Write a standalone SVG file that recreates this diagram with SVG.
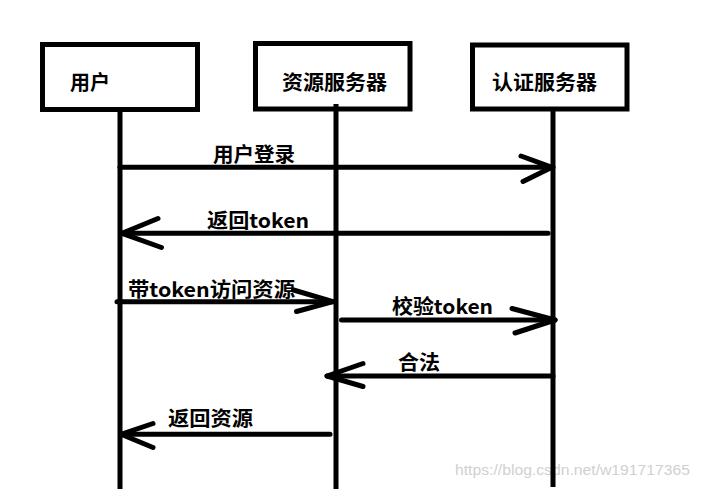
<svg xmlns="http://www.w3.org/2000/svg" width="701" height="489" viewBox="0 0 701 489">
<style>
.box{fill:#fff;stroke:#000;stroke-width:5}
.life{stroke:#000;stroke-width:5;fill:none}
.msg{stroke:#000;stroke-width:5;fill:none;stroke-linecap:round;stroke-linejoin:round}
.lbl{font-family:"Noto Sans CJK SC","Microsoft YaHei",sans-serif;font-weight:bold;font-size:20px;fill:#000}
.wm{font-family:"Liberation Sans",Arial,sans-serif;font-size:14px;fill:#d0d0d0}
</style>
<rect width="701" height="489" fill="#fff"/>
<text class="wm" x="455" y="475" textLength="235" lengthAdjust="spacingAndGlyphs">https://blog.csdn.net/w191717365</text>
<g id="user">
<rect class="box" x="42.5" y="44.5" width="155" height="65"/>
<text class="lbl" x="70" y="90">用户</text>
<line class="life" x1="120" y1="112" x2="120" y2="489"/>
</g>
<g id="resource-server">
<rect class="box" x="255.5" y="43.5" width="154.5" height="65.5"/>
<text class="lbl" x="282" y="90" textLength="105" lengthAdjust="spacingAndGlyphs">资源服务器</text>
<line class="life" x1="336" y1="104" x2="336" y2="489"/>
</g>
<g id="auth-server">
<rect class="box" x="472.5" y="45" width="154.5" height="64"/>
<text class="lbl" x="492" y="90" textLength="105" lengthAdjust="spacingAndGlyphs">认证服务器</text>
<line class="life" x1="553" y1="111" x2="553" y2="487"/>
</g>
<g id="connectors">
<line class="msg" x1="120" y1="167.3" x2="553" y2="167.3"/>
<polyline class="msg" points="521,156 552,167.3 523,181.5"/>
<line class="msg" x1="548" y1="233.3" x2="121" y2="233.3"/>
<polyline class="msg" points="158,218.5 122,233.3 161.5,247.5"/>
<line class="msg" x1="117" y1="301.7" x2="333" y2="301.7"/>
<polyline class="msg" points="293.5,290 333,301.7 296.5,311.5"/>
<line class="msg" x1="341.5" y1="320" x2="555" y2="320"/>
<polyline class="msg" points="512,308.5 555,320 515,333"/>
<line class="msg" x1="553" y1="376" x2="327" y2="376"/>
<polyline class="msg" points="363,363.5 327,376 363,386.5"/>
<line class="msg" x1="330" y1="434.3" x2="121" y2="434.3"/>
<polyline class="msg" points="153,423.5 121,434.3 153,447.5"/>
<text class="lbl" x="213" y="162" textLength="82" lengthAdjust="spacingAndGlyphs">用户登录</text>
<text class="lbl" x="207" y="228" textLength="102" lengthAdjust="spacingAndGlyphs">返回token</text>
<text class="lbl" x="128" y="296.5" textLength="167" lengthAdjust="spacingAndGlyphs">带token访问资源</text>
<text class="lbl" x="392" y="314" textLength="101" lengthAdjust="spacingAndGlyphs">校验token</text>
<text class="lbl" x="398" y="370" textLength="42" lengthAdjust="spacingAndGlyphs">合法</text>
<text class="lbl" x="168" y="426" textLength="85" lengthAdjust="spacingAndGlyphs">返回资源</text>
</g>
</svg>
